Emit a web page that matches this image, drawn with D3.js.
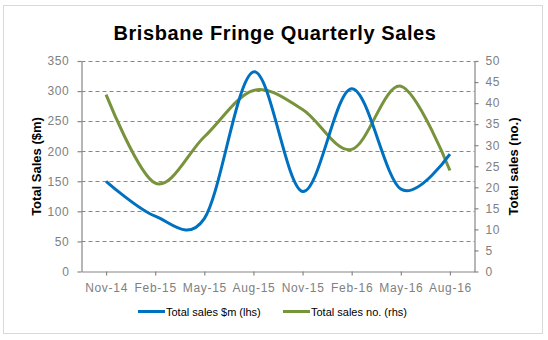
<!DOCTYPE html>
<html>
<head>
<meta charset="utf-8">
<script src="https://cdn.jsdelivr.net/npm/d3@7"></script>
<style>
  html, body { margin: 0; padding: 0; background: #fff; }
  svg { display: block; font-family: "Liberation Sans", Arial, sans-serif; }
</style>
</head>
<body>
<svg id="chart" width="548" height="340"></svg>
<script>
// Quarterly categories
const quarters = ["Nov-14", "Feb-15", "May-15", "Aug-15", "Nov-15", "Feb-16", "May-16", "Aug-16"];
// Total sales value, $m (left axis)
const salesValue = [150, 92, 88, 332, 133, 304, 137, 195];
// Total number of sales (right axis)
const salesCount = [42, 21, 32, 43, 38.5, 29, 44, 24];
// Axis ticks
const leftTicks = [0, 50, 100, 150, 200, 250, 300, 350];
const rightTicks = [0, 5, 10, 15, 20, 25, 30, 35, 40, 45, 50];

const svg = d3.select("#chart");
const plot = { left: 81.5, right: 474.5, top: 61, bottom: 271.5 };
const axisGrey = "#868686";
const labelGrey = "#808080";
const blue = "#0070C0";
const green = "#77933C";

// Outer frame
svg.append("rect")
  .attr("x", 3.5).attr("y", 5.5).attr("width", 539).attr("height", 328)
  .attr("fill", "#fff").attr("stroke", "#d9d9d9").attr("stroke-width", 1);

// Title
svg.append("text")
  .attr("x", 275).attr("y", 40)
  .attr("text-anchor", "middle")
  .attr("font-size", 20).attr("font-weight", "bold")
  .attr("letter-spacing", "0.6px")
  .attr("fill", "#000")
  .text("Brisbane Fringe Quarterly Sales");

const x = d3.scalePoint().domain(quarters).range([plot.left, plot.right]).padding(0.5);
const yL = d3.scaleLinear().domain([0, 350]).range([plot.bottom, plot.top]);
const yR = d3.scaleLinear().domain([0, 50]).range([plot.bottom, plot.top]);

// Dashed gridlines at left-axis ticks
svg.append("g").selectAll("line")
  .data(leftTicks.filter(d => d > 0))
  .join("line")
  .attr("x1", plot.left).attr("x2", plot.right)
  .attr("y1", d => Math.round(yL(d)) + 0.5).attr("y2", d => Math.round(yL(d)) + 0.5)
  .attr("stroke", axisGrey).attr("stroke-width", 1)
  .attr("stroke-dasharray", "4,3");

function styleAxis(g) {
  g.select(".domain").attr("stroke", axisGrey).attr("stroke-width", 1.2);
  g.selectAll(".tick line").attr("stroke", axisGrey).attr("stroke-width", 1.2);
  g.selectAll(".tick text")
    .attr("fill", labelGrey)
    .attr("font-size", 12)
    .attr("letter-spacing", "0.7px")
    .attr("font-family", "'Liberation Sans', Arial, sans-serif");
}

// Left axis
svg.append("g")
  .attr("transform", `translate(${plot.left},0)`)
  .call(d3.axisLeft(yL).tickValues(leftTicks).tickSize(4).tickSizeOuter(0).tickPadding(8))
  .call(styleAxis);

// Right axis
svg.append("g")
  .attr("transform", `translate(${plot.right},0)`)
  .call(d3.axisRight(yR).tickValues(rightTicks).tickSize(4).tickSizeOuter(0).tickPadding(7))
  .call(styleAxis);

// Bottom axis
svg.append("g")
  .attr("transform", `translate(0,${plot.bottom})`)
  .call(d3.axisBottom(x).tickSize(4).tickSizeOuter(0).tickPadding(8))
  .call(styleAxis);

// Axis titles
svg.append("text")
  .attr("transform", "translate(41,166.5) rotate(-90)")
  .attr("text-anchor", "middle")
  .attr("font-size", 13).attr("font-weight", "bold")
  .text("Total Sales ($m)");

svg.append("text")
  .attr("transform", "translate(518,166.5) rotate(-90)")
  .attr("text-anchor", "middle")
  .attr("font-size", 13).attr("font-weight", "bold")
  .text("Total sales (no.)");

// Smoothed series lines
const lineL = d3.line()
  .x((d, i) => x(quarters[i]))
  .y(d => yL(d))
  .curve(d3.curveCardinal.tension(0));

const lineR = d3.line()
  .x((d, i) => x(quarters[i]))
  .y(d => yR(d))
  .curve(d3.curveCardinal.tension(0));

svg.append("path")
  .datum(salesCount)
  .attr("d", lineR)
  .attr("fill", "none").attr("stroke", green).attr("stroke-width", 3);

svg.append("path")
  .datum(salesValue)
  .attr("d", lineL)
  .attr("fill", "none").attr("stroke", blue).attr("stroke-width", 3);

// Legend
const legendItems = [
  { label: "Total sales $m (lhs)", color: blue, x: 138 },
  { label: "Total sales no. (rhs)", color: green, x: 283 }
];
const legend = svg.append("g").selectAll("g").data(legendItems).join("g")
  .attr("transform", d => `translate(${d.x},311.5)`);
legend.append("line")
  .attr("x1", 0).attr("x2", 27).attr("y1", 0).attr("y2", 0)
  .attr("stroke", d => d.color).attr("stroke-width", 3);
legend.append("text")
  .attr("x", 28).attr("y", 4)
  .attr("font-size", 11).attr("fill", "#000")
  .text(d => d.label);
</script>
</body>
</html>
